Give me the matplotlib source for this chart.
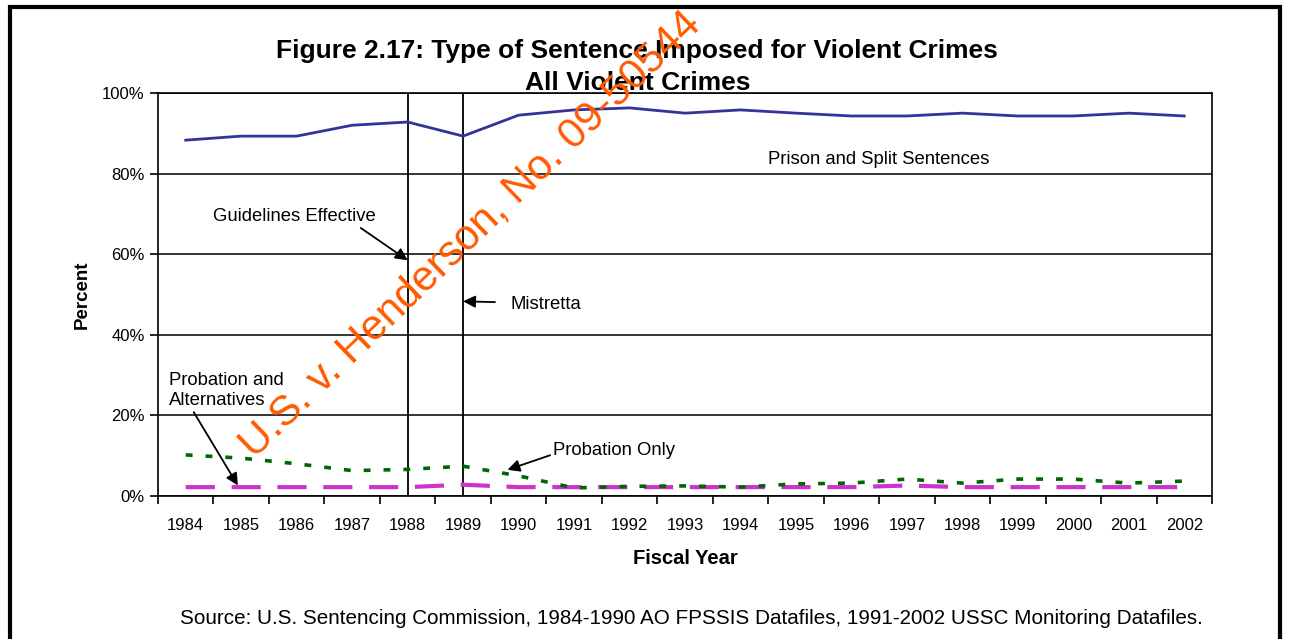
import numpy as np
import matplotlib
matplotlib.use("Agg")
import matplotlib.pyplot as plt
from matplotlib.patches import Rectangle

years = [str(y) for y in range(1984, 2003)]
prison = [88.3, 89.3, 89.3, 92.0, 92.8, 89.3, 94.5, 95.8, 96.3, 95.0,
          95.8, 95.0, 94.3, 94.3, 95.0, 94.3, 94.3, 95.0, 94.3]
prob_only = [10.2, 9.4, 8.0, 6.3, 6.6, 7.4, 5.0, 2.0, 2.4, 2.5,
             2.2, 3.0, 3.2, 4.2, 3.2, 4.2, 4.2, 3.2, 3.7]
prob_alt = [2.2, 2.2, 2.2, 2.2, 2.2, 2.8, 2.2, 2.2, 2.2, 2.2,
            2.2, 2.2, 2.2, 2.6, 2.2, 2.2, 2.2, 2.2, 2.2]

plt.rcParams['font.family'] = ['Liberation Sans', 'DejaVu Sans']

fig = plt.figure(figsize=(12.9, 6.39), dpi=100)
ax = fig.add_axes([158/1290, 1-496/639, (1212-158)/1290, (496-93)/639])

x = np.arange(len(years))
ax.plot(x, prison, color='#333399', lw=2.0, zorder=4)
ax.plot(x, prob_only, color='#006600', lw=2.6, dashes=(1.9, 3.6), zorder=4)
ax.plot(x, prob_alt, color='#cc33cc', lw=3.0, dashes=(7, 4), zorder=3)

ax.set_xlim(-0.5, len(years) - 0.5)
ax.set_ylim(0, 100)
ax.set_yticks(range(0, 101, 20))
ax.set_yticklabels([f'{v}%' for v in range(0, 101, 20)], fontsize=12)
ax.yaxis.grid(True, color='black', lw=1.1)
ax.set_axisbelow(True)

ax.set_xticks(np.arange(len(years) + 1) - 0.5)
ax.set_xticklabels([])
ax.set_xticks(x, minor=True)
ax.set_xticklabels(years, minor=True, fontsize=12)
ax.tick_params(axis='x', which='major', direction='out', length=6, width=1.2)
ax.tick_params(axis='x', which='minor', length=0, pad=16)
ax.tick_params(axis='y', direction='out', length=6, width=1.2)
for s in ax.spines.values():
    s.set_linewidth(1.2)

# policy markers
ax.axvline(4, color='black', lw=1.3, zorder=2)
ax.axvline(5, color='black', lw=1.3, zorder=2)

ax.set_ylabel('Percent', fontsize=13.5, fontweight='bold', labelpad=8)
ax.set_xlabel('Fiscal Year', fontsize=14.5, fontweight='bold', labelpad=11)

fig.text(0.494, 1-67/639, 'Figure 2.17: Type of Sentence Imposed for Violent Crimes\nAll Violent Crimes',
         ha='center', va='center', fontsize=19, fontweight='bold', linespacing=1.4)

fs = 13.3
ax.text(10.5, 83.5, 'Prison and Split Sentences', fontsize=fs, va='center')
ax.annotate('Guidelines Effective', xy=(4, 58.5), xytext=(0.5, 67.2),
            fontsize=fs, va='bottom',
            arrowprops=dict(arrowstyle='-|>', color='black', lw=1.3,
                            mutation_scale=18, shrinkA=0, shrinkB=0,
                            relpos=(0.88, 0)))
ax.annotate('Mistretta', xy=(5.0, 48.3), xytext=(5.85, 47.6),
            fontsize=fs, va='center',
            arrowprops=dict(arrowstyle='-|>', color='black', lw=1.3,
                            mutation_scale=18, shrinkA=9, shrinkB=0,
                            relpos=(0, 0.6)))
ax.annotate('Probation and\nAlternatives', xy=(0.94, 2.6), xytext=(-0.3, 21.5),
            fontsize=fs, va='bottom', linespacing=1.25,
            arrowprops=dict(arrowstyle='-|>', color='black', lw=1.3,
                            mutation_scale=18, shrinkA=0, shrinkB=0,
                            relpos=(0.2, 0)))
ax.annotate('Probation Only', xy=(5.8, 6.5), xytext=(6.62, 9.3),
            fontsize=fs, va='bottom',
            arrowprops=dict(arrowstyle='-|>', color='black', lw=1.3,
                            mutation_scale=18, shrinkA=0, shrinkB=0,
                            relpos=(0, 0.25)))

fig.text(0.536, 1-619/639,
         'Source: U.S. Sentencing Commission, 1984-1990 AO FPSSIS Datafiles, 1991-2002 USSC Monitoring Datafiles.',
         ha='center', va='center', fontsize=14.9)

# outer frame
fig.patches.append(Rectangle((10/1290, -0.02), 1270/1290, 1.02 - 7/639,
                             transform=fig.transFigure, fill=False,
                             edgecolor='black', lw=3))

# exhibit stamp (runs off the top edge, as in the source image)
fig.text(254/1290, 1-459/639, 'U.S. v. Henderson, No. 09-50544',
         rotation=44, rotation_mode='anchor', ha='left', va='baseline',
         color='#ff5a00', fontsize=30.5, zorder=10)

fig.savefig('out.png', dpi=100)
